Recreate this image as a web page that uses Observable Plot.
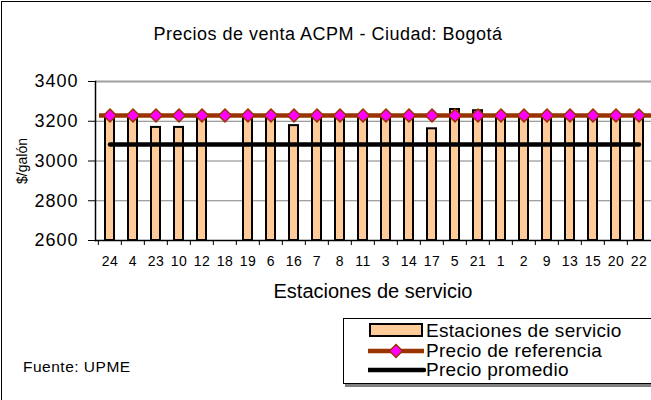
<!DOCTYPE html>
<html>
<head>
<meta charset="utf-8">
<script src="https://cdn.jsdelivr.net/npm/d3@7"></script>
<script src="https://cdn.jsdelivr.net/npm/@observablehq/plot@0.6"></script>
<style>
  body { margin: 0; background: #fff; font-family: Arial, "Liberation Sans", sans-serif; }
  #chart { position: relative; width: 651px; height: 400px; overflow: hidden; background: #fff; }
  #frame { position: absolute; left: 1px; top: 1px; width: 700px; height: 450px; border: 1.5px solid #000; box-sizing: border-box; }
  #plot { position: absolute; left: 0; top: 0; }
  #plot svg { overflow: visible; }
  #plot g[aria-label="y-axis tick label"] text { letter-spacing: 1px; }
  #plot g[aria-label="x-axis tick label"] text { letter-spacing: 0.5px; }
  .txt { position: absolute; white-space: nowrap; color: #000; line-height: 1; }
  #title { left: 0; width: 656px; text-align: center; top: 25px; font-size: 18px; letter-spacing: 0.5px; }
  #xtitle { left: 0; width: 746px; text-align: center; top: 281px; font-size: 20px; }
  #ytitle { left: 22px; top: 161px; font-size: 14px; transform: translate(-50%, -50%) rotate(-90deg); }
  #source { left: 23px; top: 359px; font-size: 15.5px; letter-spacing: 0.5px; }
  #legend { position: absolute; left: 343px; top: 318px; width: 330px; height: 66px; border: 1px solid #000; box-sizing: border-box; box-shadow: 2px 3px 0 #808080; background: #fff; }
  .row { position: absolute; left: 0; height: 19px; }
  .row svg { position: absolute; left: 24px; top: 0; }
  .row span { position: absolute; left: 82px; top: 0; font-size: 19px; line-height: 1; white-space: nowrap; letter-spacing: 0.3px; }
</style>
</head>
<body>
<div id="chart">
  <div id="frame"></div>
  <div id="plot"></div>
  <div id="title" class="txt"></div>
  <div id="ytitle" class="txt"></div>
  <div id="xtitle" class="txt"></div>
  <div id="source" class="txt"></div>
  <div id="legend"></div>
</div>
<script>
// ---- data ----
const chartTitle = "Precios de venta ACPM - Ciudad: Bogotá";
const yAxisTitle = "$/galón";
const xAxisTitle = "Estaciones de servicio";
const sourceNote = "Fuente: UPME";
const seriesNames = ["Estaciones de servicio", "Precio de referencia", "Precio promedio"];

const stations = ["24","4","23","10","12","18","19","6","16","7","8","11","3","14","17","5","21","1","2","9","13","15","20","22"];
const stationPrices = [3226,3226,3169,3169,3226,null,3226,3226,3178,3226,3226,3226,3226,3226,3162,3259,3253,3226,3226,3226,3226,3226,3226,3226];
const referencePrice = 3229;
const averagePrice = 3083;
const yTicks = [2600, 2800, 3000, 3200, 3400];

// ---- table built from arrays ----
const rows = stations.map((s, i) => ({ station: s, price: stationPrices[i], ref: referencePrice, avg: averagePrice }));

const xRange = [94.5, 654];
const step = (xRange[1] - xRange[0]) / stations.length;

const chart = Plot.plot({
  width: 651,
  height: 400,
  marginLeft: 95,
  marginRight: 0,
  marginTop: 81,
  marginBottom: 160,
  style: { fontFamily: "Arial, 'Liberation Sans', sans-serif", background: "transparent", color: "#000" },
  x: { type: "band", domain: stations, range: xRange, paddingInner: 0.615, paddingOuter: 0.3075, axis: null },
  y: { domain: [yTicks[0], yTicks[yTicks.length - 1]], axis: null },
  marks: [
    Plot.ruleY(yTicks.slice(1, -1), { stroke: "#808080", strokeWidth: 1 }),
    Plot.ruleY(yTicks.slice(-1), { stroke: "#a0a0a0", strokeWidth: 2 }),
    Plot.barY(rows.filter(d => d.price != null), { x: "station", y1: yTicks[0], y2: "price", fill: "#FFCC99", stroke: "#000", strokeWidth: 2 }),
    Plot.ruleY([referencePrice], { stroke: "#993300", strokeWidth: 4.5, insetLeft: 4 }),
    Plot.lineY(rows, { x: "station", y: "avg", stroke: "#000", strokeWidth: 4.5 }),
    Plot.dot(rows, { x: "station", y: "ref", symbol: "diamond2", r: 5.8, fill: "#FF00FF", stroke: "#993300", strokeWidth: 1.5 }),
    Plot.ruleY([yTicks[0]], { stroke: "#000", strokeWidth: 1.5 }),
    Plot.frame({ anchor: "left", stroke: "#000", strokeWidth: 1.5 }),
    Plot.axisY({ ticks: yTicks, tickSize: 7, tickPadding: 10, fontSize: 18, label: null, tickFormat: d => String(d) }),
    Plot.axisX({ tickSize: 5, tickFormat: () => "", dx: -step / 2, label: null }),
    Plot.axisX({ tickSize: 0, tickPadding: 16, fontSize: 14, label: null })
  ]
});
document.getElementById("plot").appendChild(chart);

document.getElementById("title").textContent = chartTitle;
document.getElementById("ytitle").textContent = yAxisTitle;
document.getElementById("xtitle").textContent = xAxisTitle;
document.getElementById("source").textContent = sourceNote;

// legend
const legend = document.getElementById("legend");
const swatches = [
  `<svg width="58" height="19"><rect x="2" y="3" width="52" height="12" fill="#FFCC99" stroke="#000" stroke-width="2"/></svg>`,
  `<svg width="58" height="19"><line x1="0" x2="56" y1="10" y2="10" stroke="#993300" stroke-width="4.5"/><path d="M28,3.5 L34.5,10 L28,16.5 L21.5,10 Z" fill="#FF00FF" stroke="#993300" stroke-width="1.5"/></svg>`,
  `<svg width="58" height="19"><line x1="0" x2="56" y1="10" y2="10" stroke="#000" stroke-width="4.5" stroke-linecap="round"/></svg>`
];
const rowTops = [2, 22, 41];
seriesNames.forEach((name, i) => {
  const r = document.createElement("div");
  r.className = "row";
  r.style.top = rowTops[i] + "px";
  r.innerHTML = swatches[i] + `<span></span>`;
  r.querySelector("span").textContent = name;
  legend.appendChild(r);
});
</script>
</body>
</html>
